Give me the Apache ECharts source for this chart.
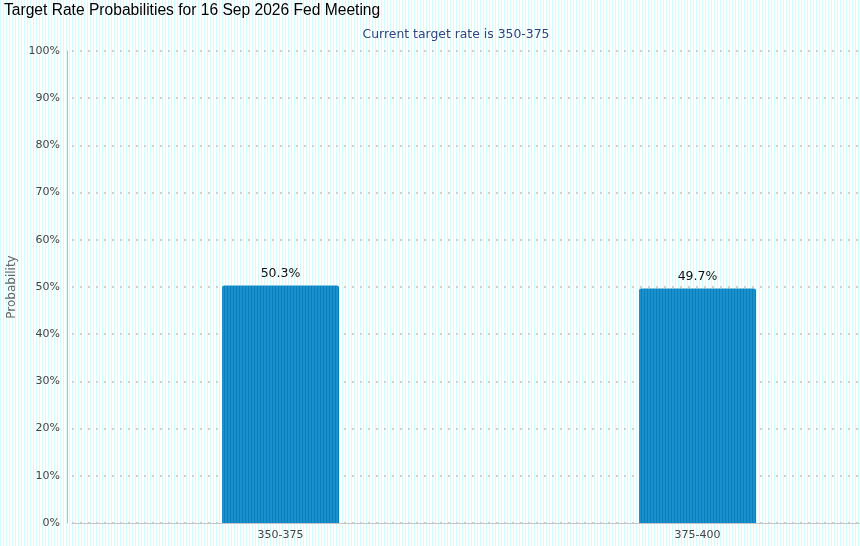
<!DOCTYPE html>
<html>
<head>
<meta charset="utf-8">
<script src="https://cdn.jsdelivr.net/npm/echarts@6/dist/echarts.min.js"></script>
<style>
html,body{margin:0;padding:0;overflow:hidden;width:860px;height:546px;}
#chart{width:910px;height:546px;background:repeating-linear-gradient(90deg,#d6fbfc 0px,#d6fbfc 1px,#ffffff 1px,#ffffff 3px);}
</style>
</head>
<body>
<div id="chart"></div>
<script>
var titleText = 'Target Rate Probabilities for 16 Sep 2026 Fed Meeting';
var subtitleText = 'Current target rate is 350-375';
var categories = ['350-375', '375-400'];
var probabilities = [50.3, 49.7];
var yTicks = [0, 10, 20, 30, 40, 50, 60, 70, 80, 90, 100];

// striped fill for the bars
var pc = document.createElement('canvas');
pc.width = 3; pc.height = 1;
var pctx = pc.getContext('2d');
pctx.fillStyle = '#1991d0'; pctx.fillRect(0, 0, 3, 1);
pctx.fillStyle = '#0b7fb6'; pctx.fillRect(2, 0, 1, 1);

var chart = echarts.init(document.getElementById('chart'));
chart.setOption({
  backgroundColor: 'transparent',
  animation: false,
  title: [{
    text: titleText,
    left: -1, top: -2,
    textStyle: {fontFamily: 'Liberation Sans, Arial', fontSize: 15.6, fontWeight: 'normal', color: '#000'}
  }, {
    text: subtitleText,
    left: 451, top: 24, textAlign: 'center',
    textStyle: {fontFamily: 'DejaVu Sans', fontSize: 12.4, fontWeight: 'normal', color: '#33447a'}
  }],
  grid: {left: 72, width: 834, top: 51, bottom: 23, containLabel: false, outerBoundsMode: 'none'},
  xAxis: {
    type: 'category',
    data: categories,
    axisLine: {lineStyle: {color: '#c4c4c4', width: 1}},
    axisTick: {alignWithLabel: true, length: 5, lineStyle: {color: '#c8c8c8'}},
    axisLabel: {fontFamily: 'DejaVu Sans', fontSize: 11, color: '#444', margin: 7}
  },
  yAxis: {
    type: 'value',
    min: 0, max: 100, interval: 10,
    offset: 5,
    name: 'Probability',
    nameLocation: 'middle',
    nameGap: 47,
    nameTextStyle: {fontFamily: 'DejaVu Sans', fontSize: 12, color: '#666'},
    axisLine: {show: true, lineStyle: {color: '#bbb'}},
    axisTick: {show: false},
    axisLabel: {
      fontFamily: 'DejaVu Sans', fontSize: 11, color: '#444', margin: 7,
      formatter: function (v) { return yTicks.indexOf(v) >= 0 ? v + '%' : ''; }
    },
    splitLine: {lineStyle: {color: '#cfcfcf', type: [2, 6], width: 2}}
  },
  series: [{
    type: 'bar',
    data: probabilities,
    barWidth: 117,
    itemStyle: {color: {image: pc, repeat: 'repeat'}, borderRadius: [2, 2, 0, 0]},
    label: {
      show: true, position: 'top', distance: 5,
      formatter: function (p) { return p.value.toFixed(1) + '%'; },
      fontFamily: 'DejaVu Sans', fontSize: 12.5, color: '#111'
    }
  }]
});
</script>
</body>
</html>
